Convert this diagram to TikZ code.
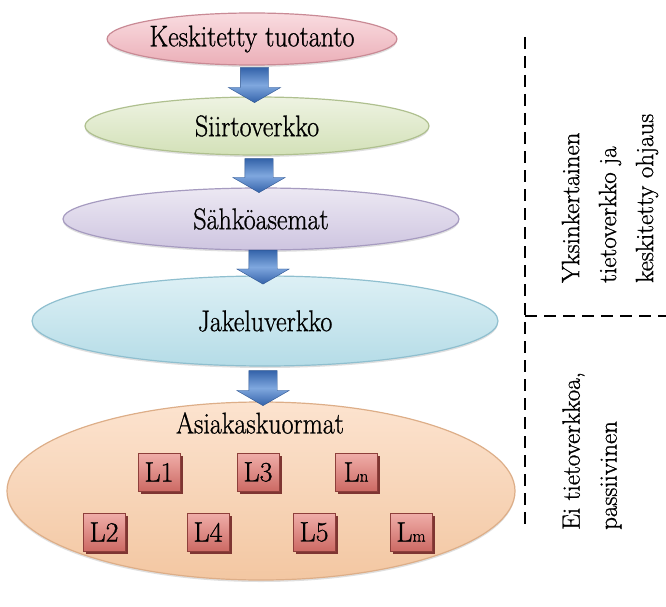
\documentclass[tikz,border=0pt]{standalone}
\usepackage{fontspec}
\setmainfont{Latin Modern Roman}[FakeBold=0.9]
\usetikzlibrary{shapes.geometric,shapes.arrows,shadows,calc}

% level colours: top / bottom / rim
\definecolor{pinkT}{HTML}{F9DCE0}\definecolor{pinkB}{HTML}{EBAFB8}\definecolor{pinkD}{HTML}{C98A95}
\definecolor{greenT}{HTML}{EEF3E2}\definecolor{greenB}{HTML}{D3E1B8}\definecolor{greenD}{HTML}{AFC08F}
\definecolor{lavT}{HTML}{ECE8F3}\definecolor{lavB}{HTML}{CEC5E0}\definecolor{lavD}{HTML}{A69BC0}
\definecolor{blueT}{HTML}{DDF0F5}\definecolor{blueB}{HTML}{B5DCE7}\definecolor{blueD}{HTML}{8FBFCF}
\definecolor{peachT}{HTML}{FCE3CF}\definecolor{peachB}{HTML}{F3C7A2}\definecolor{peachD}{HTML}{DDAE88}
% flow arrows
\definecolor{arrDark}{HTML}{3463AA}\definecolor{arrLight}{HTML}{7FA7DE}
% load boxes
\definecolor{loadT}{HTML}{F0AEA9}\definecolor{loadB}{HTML}{CC6A64}
\definecolor{loadD}{HTML}{8E3F3B}\definecolor{loadS}{HTML}{7E3532}

% slightly tall lettering
\newcommand\tallword[1]{\scalebox{1}[1.15]{#1}}

\begin{document}
\begin{tikzpicture}[x=1pt,y=-1pt,
  level/.style={ellipse, inner sep=0pt, line width=1.2pt,
    font=\fontsize{26}{26}\selectfont,
    drop shadow={shadow xshift=0pt, shadow yshift=-2pt, opacity=0.25}},
  pinkfill/.style={top color=pinkT, bottom color=pinkB, draw=pinkD},
  greenfill/.style={top color=greenT, bottom color=greenB, draw=greenD},
  lavfill/.style={top color=lavT, bottom color=lavB, draw=lavD},
  bluefill/.style={top color=blueT, bottom color=blueB, draw=blueD},
  peachfill/.style={top color=peachT, bottom color=peachB, draw=peachD},
  flow/.style={single arrow, rotate=-90, inner xsep=0pt, inner ysep=14pt,
    single arrow head extend=12pt, single arrow tip angle=120,
    top color=arrDark, bottom color=arrDark, middle color=arrLight,
    draw=arrDark!85!black, line width=0.4pt},
  loadbox/.style={rectangle, minimum width=42pt, minimum height=38pt,
    inner sep=0pt, top color=loadT, bottom color=loadB, draw=loadD,
    line width=0.8pt, font=\fontsize{28}{28}\selectfont,
    drop shadow={shadow xshift=3pt, shadow yshift=-3pt, fill=loadS, opacity=1}},
  divider/.style={line width=1.8pt, dash pattern=on 12pt off 7pt},
  sidetext/.style={rotate=90, align=left, inner sep=0pt,
    font=\fontsize{25}{37}\selectfont}]

\useasboundingbox (0,0) rectangle (666,607);
\fill[white] (0,0) rectangle (666,607);

% network levels
\node[level, pinkfill,  minimum width=262pt, minimum height=52pt]  (tuotanto) at (252,39)  {\tallword{Keskitetty tuotanto}};
\node[level, greenfill, minimum width=344pt, minimum height=58pt]  (siirto)   at (257,126) {\tallword{Siirtoverkko}};
\node[level, lavfill,   minimum width=396pt, minimum height=62pt]  (asemat)   at (261,219) {\tallword{Sähköasemat}};
\node[level, bluefill,  minimum width=466pt, minimum height=90pt]  (jakelu)   at (265,321) {\tallword{Jakeluverkko}};
\node[level, peachfill, minimum width=508pt, minimum height=178pt] (kuormat)  at (261,491) {};
\node[font=\fontsize{26}{26}\selectfont, inner sep=0pt] (kuormatlbl) at (260,423) {\tallword{Asiakaskuormat}};

% flow arrows between levels
\node[flow, minimum height=35pt] (f1) at ($(tuotanto.south)!0.5!(siirto.north)$) {};
\node[flow, minimum height=34pt] (f2) at ($(siirto.south)!0.5!(asemat.north)$) {};
\node[flow, minimum height=34pt] (f3) at ($(asemat.south)!0.5!(jakelu.north)$) {};
\node[flow, minimum height=35pt] (f4) at ($(jakelu.south)!0.5!(kuormat.north)$) {};

% customer loads
\node[loadbox] (l1) at (159,472) {L1};
\node[loadbox] (l3) at (258,472) {L3};
\node[loadbox] (ln) at (356,472) {L{\fontsize{17}{17}\selectfont n}};
\node[loadbox] (l2) at (104,532) {L2};
\node[loadbox] (l4) at (208,532) {L4};
\node[loadbox] (l5) at (314,532) {L5};
\node[loadbox] (lm) at (411,532) {L{\fontsize{17}{17}\selectfont m}};

% dashed dividers
\coordinate (vtop) at (525,37);
\coordinate (vbot) at (525,530);
\coordinate (hleft) at (525,316);
\coordinate (hright) at (666,316);
\draw[divider] (vtop) -- (vbot);
\draw[divider] (hleft) -- (hright);

% side captions
\node[sidetext, anchor=west] (ohjaus) at (610,283) {Yksinkertainen\\tietoverkko ja\\keskitetty ohjaus};
\node[sidetext, anchor=west] (passiivinen) at (592,530) {Ei tietoverkkoa,\\passiivinen};
\end{tikzpicture}
\end{document}
